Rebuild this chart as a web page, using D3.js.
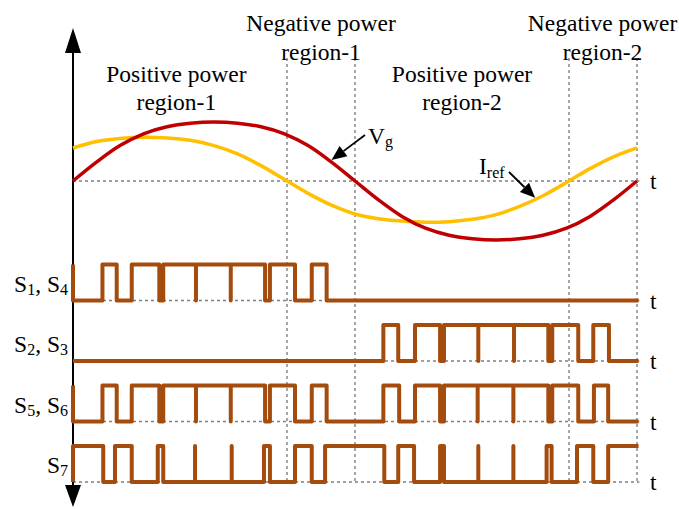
<!DOCTYPE html>
<html>
<head>
<meta charset="utf-8">
<script src="https://cdn.jsdelivr.net/npm/d3@7"></script>
<style>
  html, body { margin: 0; padding: 0; background: #fff; }
  svg { display: block; font-family: "Liberation Serif", "Times New Roman", serif; }
</style>
</head>
<body>
<svg id="chart" width="679" height="509"></svg>
<script>
// Phase angle in degrees over one grid period, amplitude normalised to the Vg peak.
const vgPoints = [
  [0, 0], [15, 0.32], [30, 0.60], [45, 0.80], [60, 0.92], [75, 0.98], [90, 1.0],
  [105, 0.98], [120, 0.92], [135, 0.80], [150, 0.60], [165, 0.32], [180, 0],
  [195, -0.32], [210, -0.60], [225, -0.80], [240, -0.92], [255, -0.98], [270, -1.0],
  [285, -0.98], [300, -0.92], [315, -0.80], [330, -0.60], [345, -0.32], [360, 0]
];
const irefPoints = [
  [0, 0.56], [15, 0.67], [30, 0.72], [45, 0.74], [60, 0.73], [75, 0.69], [90, 0.60],
  [105, 0.46], [120, 0.26], [136.6, 0], [150, -0.21], [165, -0.41], [180, -0.56],
  [195, -0.64], [210, -0.68], [225, -0.70], [240, -0.69], [255, -0.65], [270, -0.57],
  [285, -0.43], [300, -0.25], [316.6, 0], [330, 0.21], [345, 0.41], [360, 0.56]
];

// Region boundaries (degrees): Iref zero crossings and Vg zero crossings.
const regionBounds = [136.6, 180, 316.6, 360];
const regionTitles = [
  { lines: ["Positive power", "region-1"], at: 66, row: 1 },
  { lines: ["Negative power", "region-1"], at: 158.3, row: 0 },
  { lines: ["Positive power", "region-2"], at: 248.3, row: 1 },
  { lines: ["Negative power", "region-2"], at: 338, row: 0 }
];

// Gate signals: starting level, then switching instants in degrees.
// A repeated instant is a zero-width notch/spike.
const s14Start = 1;
const s14Edges = [0, 18.8, 27.9, 37.5, 55.1, 57.6, 78.5, 78.5, 100.7, 100.7,
  122.6, 125.7, 141.7, 152.4, 161.9];
const s23Start = 0;
const s23Edges = [198.1, 207.6, 218.3, 234.3, 236.8, 258.7, 258.7, 281.5, 281.5,
  303.4, 305.9, 322.5, 332.1, 342.1];
const s56Start = 1;
const s56Edges = [0, 18.8, 27.9, 37.5, 55.1, 57.6, 78.5, 78.5, 100.7, 100.7,
  122.6, 125.7, 141.7, 152.4, 161.9, 198.1, 208.2, 218.3, 234.3, 236.8,
  258.3, 258.3, 281.1, 281.1, 303.4, 305.9, 322.5, 332.5, 341.6];
const s7Start = 0;
const s7Edges = [0, 19.3, 26.8, 37.5, 54.1, 57.6, 77.9, 77.9, 101.3, 101.3,
  121.9, 125.7, 141.7, 152.4, 160.9, 198.7, 207.6, 217.7, 234.3, 236.8,
  258.7, 258.7, 281.1, 281.1, 302.3, 305.5, 321.7, 332.1, 341.6];

const rowLabels = [["1", "4"], ["2", "3"], ["5", "6"], ["7"]];
const signals = [
  { start: s14Start, edges: s14Edges },
  { start: s23Start, edges: s23Edges },
  { start: s56Start, edges: s56Edges },
  { start: s7Start, edges: s7Edges }
];

const svg = d3.select("#chart");
const FONT = 23.5, SUB = 16;
const GRID = "#808080", PULSE = "#A34C0E", VG = "#C00000", IREF = "#FFC000";
const axisX = 73;

const x = d3.scaleLinear().domain([0, 360]).range([axisX, 637]);
const yWave = d3.scaleLinear().domain([-1, 1]).range([240, 122]);
const rowBase = d3.scaleLinear().domain([0, 3]).range([300.5, 482]);
const pulseH = 36;

// Dotted guides
const guides = svg.append("g").attr("stroke", GRID).attr("stroke-width", 1.4)
  .attr("stroke-dasharray", "3,3").attr("fill", "none");
regionBounds.forEach(b => {
  guides.append("line").attr("x1", x(b)).attr("x2", x(b)).attr("y1", 58).attr("y2", rowBase(3));
});
guides.append("line").attr("x1", axisX).attr("x2", x(361.5)).attr("y1", yWave(0)).attr("y2", yWave(0));
signals.forEach((s, i) => {
  guides.append("line").attr("x1", axisX).attr("x2", x(361.5))
    .attr("y1", rowBase(i)).attr("y2", rowBase(i));
});

// Vertical axis with arrowheads at both ends
svg.append("line").attr("x1", axisX).attr("x2", axisX).attr("y1", 40).attr("y2", 495)
  .attr("stroke", "#000").attr("stroke-width", 2);
svg.append("path").attr("d", `M${axisX},28 L${axisX - 8},53 L${axisX + 8},53 Z`).attr("fill", "#000");
svg.append("path").attr("d", `M${axisX},507 L${axisX - 8},485 L${axisX + 8},485 Z`).attr("fill", "#000");

// Grid voltage and reference current
const wave = d3.line().x(d => x(d[0])).y(d => yWave(d[1])).curve(d3.curveCatmullRom.alpha(0.5));
svg.append("path").datum(irefPoints).attr("d", wave)
  .attr("fill", "none").attr("stroke", IREF).attr("stroke-width", 3.5);
svg.append("path").datum(vgPoints).attr("d", wave)
  .attr("fill", "none").attr("stroke", VG).attr("stroke-width", 3.5);

// Gate pulse trains
function pulsePoints(sig) {
  let level = sig.start;
  const pts = [[0, level]];
  sig.edges.forEach(t => {
    pts.push([t, level]);
    level = 1 - level;
    pts.push([t, level]);
  });
  pts.push([361, level]);
  return pts;
}
signals.forEach((sig, i) => {
  const yl = d3.scaleLinear().domain([0, 1]).range([rowBase(i), rowBase(i) - pulseH]);
  const line = d3.line().x(d => x(d[0])).y(d => yl(d[1])).curve(d3.curveLinear);
  svg.append("path").datum(pulsePoints(sig)).attr("d", line)
    .attr("fill", "none").attr("stroke", PULSE).attr("stroke-width", 4)
    .attr("stroke-linejoin", "round").attr("stroke-linecap", "butt");
});

// Row labels S1, S4 ... S7
rowLabels.forEach((subs, i) => {
  const t = svg.append("text").attr("x", 68).attr("y", rowBase(i) - 9)
    .attr("text-anchor", "end").attr("font-size", FONT).attr("fill", "#000");
  subs.forEach((s, k) => {
    if (k > 0) t.append("tspan").attr("dy", -3).text(", ");
    t.append("tspan").text("S");
    t.append("tspan").attr("font-size", SUB).attr("dy", 3).text(s);
  });
});

// Time labels
[yWave(0), ...signals.map((s, i) => rowBase(i))].forEach(y0 => {
  svg.append("text").attr("x", 650).attr("y", y0 + 8).attr("font-size", FONT).text("t");
});

// Region titles
const baseY = [[31, 60], [82.3, 109.5]];
regionTitles.forEach(r => {
  const t = svg.append("text").attr("text-anchor", "middle").attr("font-size", FONT);
  r.lines.forEach((ln, k) => {
    t.append("tspan").attr("x", x(r.at)).attr("y", baseY[r.row][k]).text(ln);
  });
});

// Curve labels with pointer arrows
function arrow(x1, y1, x2, y2) {
  const ang = Math.atan2(y2 - y1, x2 - x1), L = 15, W = 6.5;
  const bx = x2 - L * Math.cos(ang), by = y2 - L * Math.sin(ang);
  svg.append("line").attr("x1", x1).attr("y1", y1).attr("x2", bx).attr("y2", by)
    .attr("stroke", "#000").attr("stroke-width", 1.8);
  const px = -Math.sin(ang) * W, py = Math.cos(ang) * W;
  svg.append("path")
    .attr("d", `M${x2},${y2} L${bx + px},${by + py} L${bx - px},${by - py} Z`)
    .attr("fill", "#000");
}
arrow(365, 135, x(165), yWave(0.32) - 2);
const vgLab = svg.append("text").attr("x", 368).attr("y", 143.5).attr("font-size", FONT);
vgLab.append("tspan").text("V");
vgLab.append("tspan").attr("font-size", SUB).attr("dy", 3).text("g");

arrow(509, 172, x(295), yWave(-0.31) - 1.5);
const irLab = svg.append("text").attr("x", 479).attr("y", 174.3).attr("font-size", FONT);
irLab.append("tspan").text("I");
irLab.append("tspan").attr("font-size", SUB).attr("dy", 4).text("ref");
</script>
</body>
</html>
